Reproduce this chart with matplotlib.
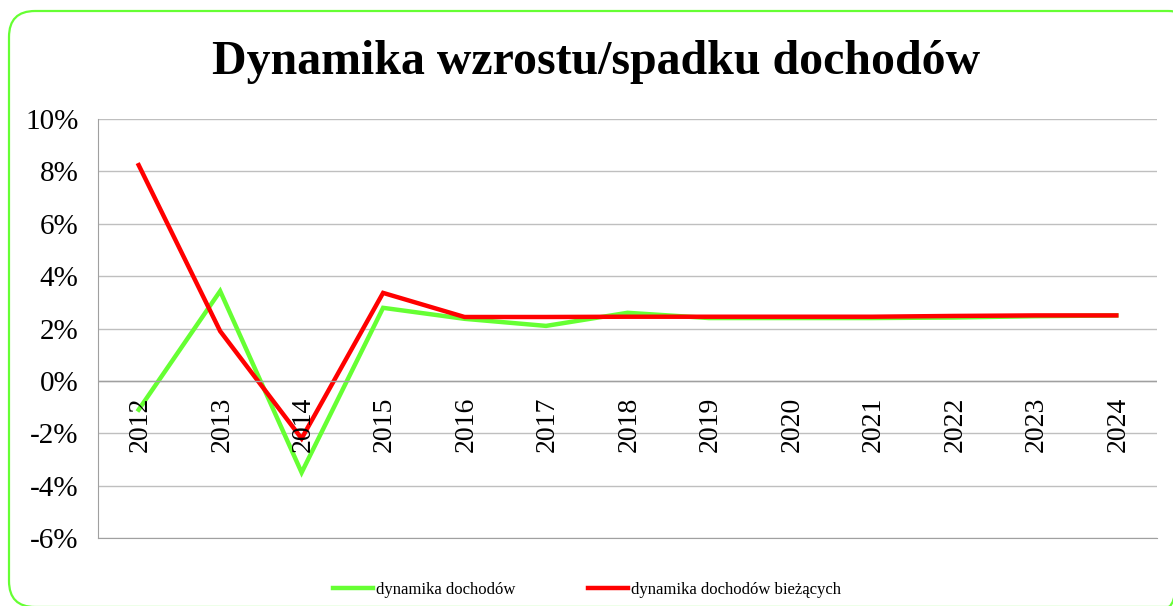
import numpy as np
import matplotlib
matplotlib.use('Agg')
import matplotlib.pyplot as plt
from matplotlib.patches import FancyBboxPatch
from matplotlib.ticker import FuncFormatter

#Data section ---------------------------------------------
years = ['2012', '2013', '2014', '2015', '2016', '2017', '2018',
         '2019', '2020', '2021', '2022', '2023', '2024']
dyn_dochodow = [-1.1, 3.43, -3.5, 2.79, 2.37, 2.1, 2.6,
                2.4, 2.4, 2.4, 2.42, 2.47, 2.5]
dyn_biezacych = [8.24, 1.9, -2.2, 3.36, 2.44, 2.44, 2.45,
                 2.45, 2.45, 2.45, 2.48, 2.5, 2.5]
label_green = 'dynamika dochodów'
label_red = 'dynamika dochodów bieżących'
title = 'Dynamika wzrostu/spadku dochodów'

#Plot section ---------------------------------------------
plt.rcParams['font.family'] = ['Liberation Serif', 'DejaVu Serif']

fig = plt.figure(figsize=(11.73, 6.06), dpi=100)

# background axes in pixel units for the rounded green frame
bg = fig.add_axes([0, 0, 1, 1], zorder=-5)
bg.set_xlim(0, 1173)
bg.set_ylim(606, 0)
bg.axis('off')
bg.add_patch(FancyBboxPatch((9, 11), 1185, 596, boxstyle='round,pad=0,rounding_size=26',
                            fill=False, edgecolor='#66ff33', linewidth=1.6))

ax1 = fig.add_axes([0.0835, 0.1122, 0.9029, 0.6914])
x = np.arange(len(years))
ax1.plot(x, dyn_dochodow, '-', color='#66ff33', linewidth=3.2, label=label_green,
         solid_joinstyle='miter')
ax1.plot(x, dyn_biezacych, '-', color='#ff0000', linewidth=3.2, label=label_red,
         solid_joinstyle='miter')

ax1.set_xlim(-0.5, len(years) - 0.5)
ax1.set_ylim(-6, 10)
ax1.set_yticks(np.arange(-6, 11, 2))
ax1.yaxis.set_major_formatter(FuncFormatter(lambda v, p: '{:.0f}%'.format(v)))
ax1.grid(axis='y', color='#bfbfbf', linewidth=1)
ax1.set_axisbelow(True)
for s in ['top', 'right']:
    ax1.spines[s].set_visible(False)
ax1.spines['left'].set_color('#a0a0a0')
ax1.spines['bottom'].set_color('#a0a0a0')
ax1.tick_params(axis='y', length=0, labelsize=21, pad=14)

ax1.set_xticks([])
for i, yr in enumerate(years):
    ax1.text(i + 0.02, -0.6, yr, rotation=90, ha='center', va='top', fontsize=20)

ax1.axhline(0, color='#a0a0a0', linewidth=1)

fig.text(0.508, 0.897, title, ha='center', va='center', fontsize=34.5, fontweight='bold')

leg = fig.legend(loc='center left', bbox_to_anchor=(0.284, 0.026), ncol=2, frameon=False,
                 fontsize=12, handlelength=2.4, columnspacing=4.3, handletextpad=0.2,
                 borderaxespad=0, borderpad=0)

plt.savefig('out.png', dpi=100)
